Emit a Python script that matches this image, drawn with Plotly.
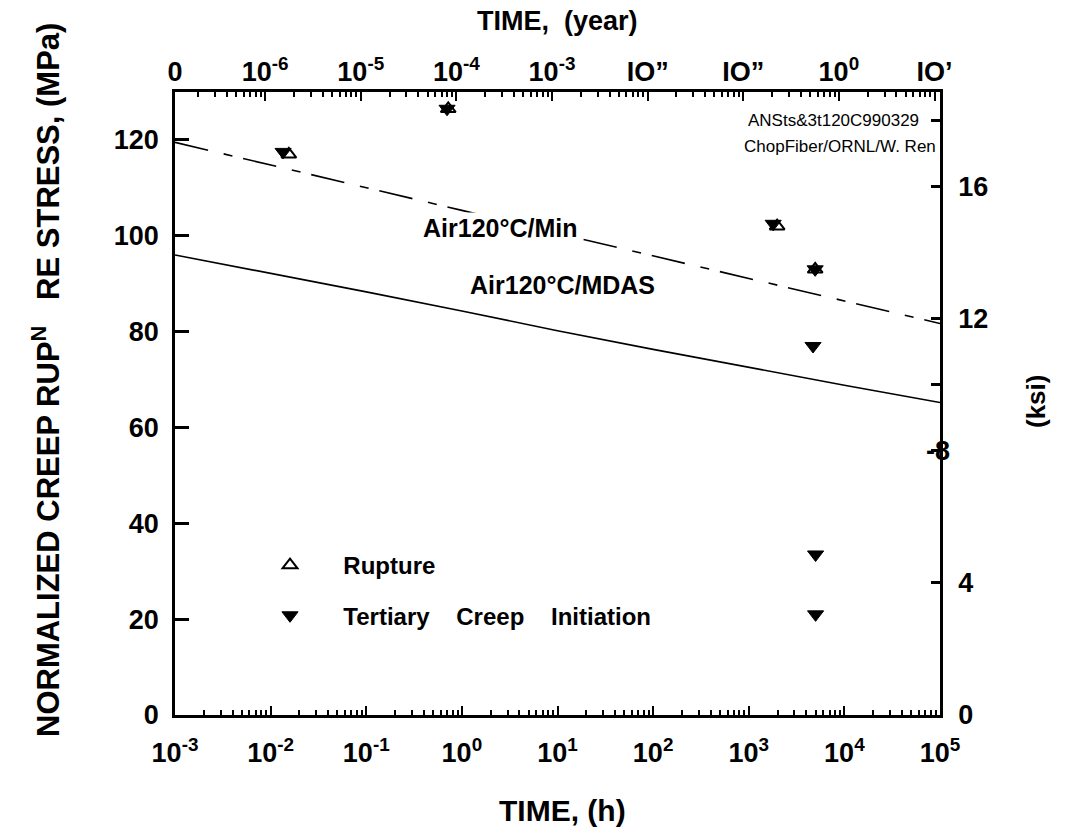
import math
import plotly.graph_objects as go

# ---------------- data ----------------
HOURS_PER_YEAR = 8760.0
MPA_PER_KSI = 6.895

# fitted curves, time in hours, stress in MPa
line_time_h = [1e-3, 1e-2, 1e-1, 1e0, 1e1, 1e2, 1e3, 1e4, 1e5]
min_stress = [119.5, 114.8, 110.0, 105.3, 100.5, 95.8, 91.0, 86.3, 81.7]
mdas_stress = [96.0, 92.2, 88.3, 84.3, 80.2, 76.3, 72.5, 68.8, 65.2]

# test points
rupture_time_h = [0.0155, 0.72, 1980, 4950]
rupture_stress = [117.0, 126.5, 102.0, 93.0]
tertiary_time_h = [0.0135, 0.70, 1800, 4950, 4700, 5000, 5000]
tertiary_stress = [117.5, 126.5, 102.5, 93.0, 77.0, 33.5, 21.0]

# axis ticks / labels
x_exponents = [-3, -2, -1, 0, 1, 2, 3, 4, 5]
x_ticktext = ["10<sup>%d</sup>" % e for e in x_exponents]
year_exponents = [-6, -5, -4, -3, -2, -1, 0, 1]
year_ticktext = ["0", "10<sup>-6</sup>", "10<sup>-5</sup>", "10<sup>-4</sup>",
                 "10<sup>-3</sup>", "IO\u201d", "IO\u201d", "10<sup>0</sup>", "IO\u2019"]
y_ticks = [0, 20, 40, 60, 80, 100, 120]
ksi_ticks = [0, 4, 8, 10, 12, 16, 18]
ksi_ticktext = ["0", "4", "", "", "12", "16", ""]
ksi_shifted_label = "-8"
ksi_shifted_value = 8

Y_MAX = 130.0
X_MIN_H, X_MAX_H = 1e-3, 1e5

FONT = "Liberation Sans, Arial, sans-serif"

# plot-area pixel geometry
L, R, T, B = 175, 138, 92, 113
W, H = 1078, 828
PW, PH = W - L - R, H - T - B


def px_x(p):
    return (p - L) / PW


def px_y(p):
    return (H - B - p) / PH


NB = "\u00a0"

fig = go.Figure()

# dashed fit (Min)
fig.add_trace(go.Scatter(
    x=line_time_h, y=min_stress, mode="lines",
    line=dict(color="black", width=1.6, dash="34px,16px,9px,11px"),
    showlegend=False, hoverinfo="skip"))
# solid fit (MDAS)
fig.add_trace(go.Scatter(
    x=line_time_h, y=mdas_stress, mode="lines",
    line=dict(color="black", width=1.6),
    showlegend=False, hoverinfo="skip"))

# points
fig.add_trace(go.Scatter(
    x=rupture_time_h, y=rupture_stress, mode="markers",
    name=NB * 5 + "Rupture", legendgroup="r",
    marker=dict(symbol="triangle-up-open", size=13, color="black",
                line=dict(color="black", width=2))))
fig.add_trace(go.Scatter(
    x=tertiary_time_h, y=tertiary_stress, mode="markers",
    name=NB * 5 + "Tertiary" + NB * 3 + " Creep" + NB * 3 + " Initiation",
    legendgroup="t",
    marker=dict(symbol="triangle-down", size=14, color="black",
                line=dict(color="black", width=1))))

# invisible helper traces so the secondary axes are drawn
fig.add_trace(go.Scatter(
    x=[t / HOURS_PER_YEAR for t in line_time_h], y=min_stress,
    xaxis="x2", yaxis="y", mode="lines", opacity=0,
    showlegend=False, hoverinfo="skip"))
fig.add_trace(go.Scatter(
    x=line_time_h, y=[s / MPA_PER_KSI for s in mdas_stress],
    xaxis="x", yaxis="y2", mode="lines", opacity=0,
    showlegend=False, hoverinfo="skip"))

minor_h = [k * 10 ** e for e in range(-3, 5) for k in range(2, 10)]
year_lo = math.log10(X_MIN_H / HOURS_PER_YEAR)
year_hi = math.log10(X_MAX_H / HOURS_PER_YEAR)
minor_y = [k * 10 ** e for e in range(-7, 2) for k in range(2, 10)
           if year_lo < math.log10(k * 10 ** e) < year_hi]

axis_line = dict(showline=True, linecolor="black", linewidth=2.5,
                 showgrid=False, zeroline=False)


def note(text, x, y, size, bold=True, **kw):
    d = dict(text=text, x=x, y=y, xref=kw.pop("xref", "paper"),
             yref=kw.pop("yref", "paper"), showarrow=False,
             yanchor="middle",
             font=dict(family=FONT, size=size, color="black",
                       weight="bold" if bold else "normal"))
    d.update(kw)
    return d


fig.update_layout(
    width=W, height=H,
    margin=dict(l=L, r=R, t=T, b=B, pad=0),
    paper_bgcolor="white", plot_bgcolor="white",
    font=dict(family=FONT, color="black"),
    xaxis=dict(
        type="log", range=[math.log10(X_MIN_H), math.log10(X_MAX_H)],
        tickmode="array", tickvals=[10.0 ** e for e in x_exponents],
        ticktext=x_ticktext, ticks="inside", ticklen=9, tickwidth=2,
        tickcolor="black", ticklabelstandoff=12,
        tickfont=dict(family=FONT, size=27, weight="bold"),
        minor=dict(tickmode="array", tickvals=minor_h, ticks="inside",
                   ticklen=5, tickwidth=1.5, tickcolor="black", showgrid=False),
        **axis_line),
    xaxis2=dict(
        type="log", overlaying="x", side="top", anchor="y",
        range=[year_lo, year_hi],
        tickmode="array",
        tickvals=[X_MIN_H / HOURS_PER_YEAR] + [10.0 ** e for e in year_exponents],
        ticktext=year_ticktext, ticks="inside", ticklen=9, tickwidth=2,
        tickcolor="black", ticklabelstandoff=-3,
        tickfont=dict(family=FONT, size=27, weight="bold"),
        minor=dict(tickmode="array", tickvals=minor_y, ticks="inside",
                   ticklen=5, tickwidth=1.5, tickcolor="black", showgrid=False),
        **axis_line),
    yaxis=dict(
        range=[0, Y_MAX], tickmode="array", tickvals=y_ticks,
        ticks="inside", ticklen=14, tickwidth=3, tickcolor="black",
        ticklabelstandoff=8,
        tickfont=dict(family=FONT, size=27, weight="bold"),
        **axis_line),
    yaxis2=dict(
        overlaying="y", side="right", anchor="x",
        range=[0, Y_MAX / MPA_PER_KSI], tickmode="array",
        tickvals=ksi_ticks, ticktext=ksi_ticktext,
        ticks="inside", ticklen=9, tickwidth=2.5, tickcolor="black",
        ticklabelstandoff=10,
        tickfont=dict(family=FONT, size=27, weight="bold"),
        **axis_line),
    showlegend=True,
    legend=dict(
        x=px_x(270), y=px_y(543), xanchor="left", yanchor="top",
        bgcolor="rgba(0,0,0,0)", borderwidth=0,
        font=dict(family=FONT, size=24, weight="bold"),
        traceorder="grouped", tracegroupgap=16),
    annotations=[
        note("TIME,  (year)", 0.5, px_y(21), 27),
        note("TIME, (h)", px_x(562), px_y(810), 30),
        note("NORMALIZED CREEP RUP<sup>N</sup>   RE STRESS, (MPa)",
             px_x(24), px_y(380), 31, textangle=-90),
        note("(ksi)", px_x(1053), px_y(402), 26, textangle=-90),
        note("ANSts&3t120C990329", px_x(921), px_y(120), 17, bold=False,
             xanchor="right"),
        note("ChopFiber/ORNL/W. Ren", px_x(938), px_y(146), 17, bold=False,
             xanchor="right"),
        note("Air120°C/Min", px_x(421), px_y(228), 25, xanchor="left",
             bgcolor="white", borderpad=1),
        note("Air120°C/MDAS", px_x(468), px_y(285), 25, xanchor="left"),
        note(ksi_shifted_label, px_x(952), ksi_shifted_value, 27,
             yref="y2", xanchor="right"),
    ],
)

fig.write_html("out.html")
